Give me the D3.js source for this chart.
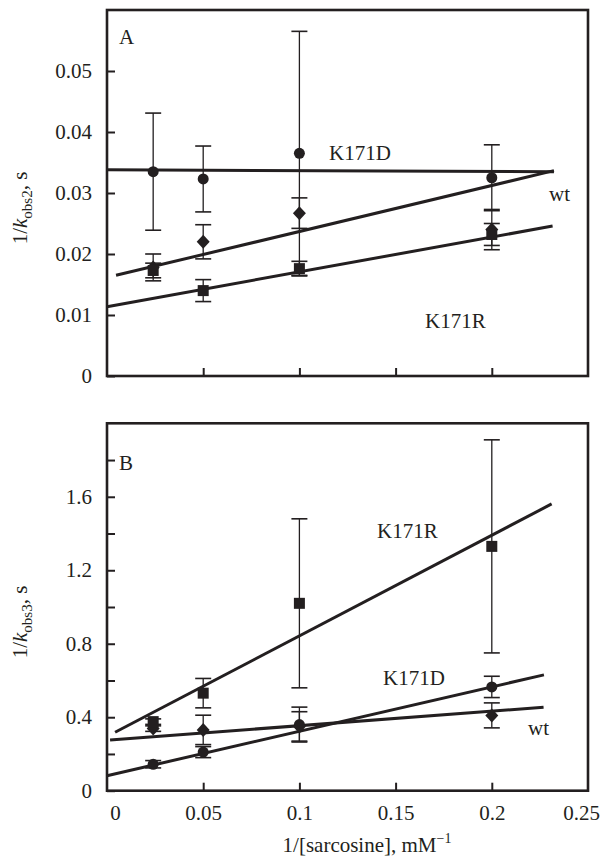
<!DOCTYPE html>
<html><head><meta charset="utf-8">
<script src="https://cdn.jsdelivr.net/npm/d3@7"></script>
<style>
html,body{margin:0;padding:0;background:#fff;}
svg text{font-family:"Liberation Serif","Times New Roman",serif;fill:#231f20;}
</style></head>
<body>
<svg id="chart" width="601" height="859" font-family="Liberation Serif, serif"></svg>
<script>
// ---- data ----
const xValues = [0.024, 0.05, 0.1, 0.2];
const seriesNames = ["K171D", "wt", "K171R"];
const seriesShapes = ["circle", "diamond", "square"];

// Panel A: 1/kobs2
const aK171D = [0.0335, 0.0323, 0.0365, 0.0325];
const aK171DErr = [0.0096, 0.0054, 0.0200, 0.0054];
const aWt = [0.0178, 0.0220, 0.0267, 0.0240];
const aWtErr = [0.0022, 0.0028, 0.0025, 0.0033];
const aK171R = [0.0173, 0.0140, 0.0176, 0.0232];
const aK171RErr = [0.0012, 0.0018, 0.0012, 0.0018];
const aFitIntercept = [0.0338, 0.01615, 0.01136];
const aFitSlope = [-0.0013, 0.0754, 0.0571];
const aFitStart = [0, 0.0047, 0];
const aFitEnd = [0.2323, 0.2323, 0.2316];
const aYTicks = [0, 0.01, 0.02, 0.03, 0.04, 0.05];

// Panel B: 1/kobs3
const bK171D = [0.144, 0.210, 0.360, 0.565];
const bK171DErr = [0.020, 0.030, 0.095, 0.058];
const bWt = [0.338, 0.331, 0.350, 0.410];
const bWtErr = [0.015, 0.080, 0.080, 0.068];
const bK171R = [0.376, 0.531, 1.020, 1.330];
const bK171RErr = [0.015, 0.080, 0.460, 0.580];
const bFitIntercept = [0.0817, 0.2747, 0.295];
const bFitSlope = [2.417, 0.792, 5.478];
const bFitStart = [0, 0.0016, 0.0042];
const bFitEnd = [0.2271, 0.2269, 0.2311];
const bYTicks = [0, 0.2, 0.4, 0.6, 0.8, 1.0, 1.2, 1.4, 1.6, 1.8];
const bYLabels = [0, 0.4, 0.8, 1.2, 1.6];

const xTicksInner = [0.05, 0.1, 0.15, 0.2];
const xTickLabels = [0, 0.05, 0.1, 0.15, 0.2, 0.25];

// ---- drawing ----
const FONT = "Liberation Serif, Times New Roman, serif";
const svg = d3.select("#chart");
const ink = "#231f20";
const x = d3.scaleLinear().domain([0, 0.25]).range([107, 588]);

function drawPanel(cfg) {
  const g = svg.append("g");
  const y = cfg.y;
  // y axis (inward ticks)
  const ya = d3.axisLeft(y).tickValues(cfg.yTicks).tickSize(-8).tickPadding(15)
    .tickFormat(d => cfg.yLabels.some(v => Math.abs(v - d) < 1e-9) ? String(+d.toFixed(3)) : "");
  const yg = g.append("g").attr("transform", `translate(${x.range()[0]},0)`).call(ya)
    .attr("font-family", FONT);
  yg.select(".domain").remove();
  yg.selectAll("line").attr("stroke", ink).attr("stroke-width", 2);
  yg.selectAll("text").attr("font-size", 21).attr("fill", ink).attr("font-family", FONT);

  // x axis (inward ticks)
  const xa = d3.axisBottom(x).tickValues(xTicksInner).tickSize(-8).tickFormat("");
  const xg = g.append("g").attr("transform", `translate(0,${y.range()[0]})`).call(xa);
  xg.select(".domain").remove();
  xg.selectAll("line").attr("stroke", ink).attr("stroke-width", 2);

  if (cfg.showXLabels) {
    const xl = d3.axisBottom(x).tickValues(xTickLabels).tickSize(0).tickPadding(14)
      .tickFormat(d => String(d));
    const xlg = g.append("g").attr("transform", `translate(0,${y.range()[0]})`).call(xl)
      .attr("font-family", FONT);
    xlg.select(".domain").remove();
    xlg.selectAll("text").attr("font-size", 21).attr("fill", ink).attr("font-family", FONT)
      .attr("dx", d => d === 0 ? 8 : (d === 0.25 ? -7 : 0));
  }

  // frame
  g.append("rect")
    .attr("x", x.range()[0]).attr("y", y.range()[1])
    .attr("width", x.range()[1] - x.range()[0]).attr("height", y.range()[0] - y.range()[1])
    .attr("fill", "none").attr("stroke", ink).attr("stroke-width", 2.6);

  // fit lines
  cfg.fitIntercept.forEach((b, i) => {
    const m = cfg.fitSlope[i];
    const xs = [cfg.fitStart[i], cfg.fitEnd[i]];
    g.append("line")
      .attr("x1", x(xs[0])).attr("y1", y(b + m * xs[0]))
      .attr("x2", x(xs[1])).attr("y2", y(b + m * xs[1]))
      .attr("stroke", ink).attr("stroke-width", 3);
  });

  // error bars and markers
  cfg.series.forEach((s, si) => {
    const shape = seriesShapes[si];
    s.vals.forEach((v, i) => {
      const cx = x(xValues[i]);
      const e = s.errs[i];
      const yt = y(v + e), yb = y(v - e);
      g.append("line").attr("x1", cx).attr("x2", cx).attr("y1", yt).attr("y2", yb)
        .attr("stroke", ink).attr("stroke-width", 1.3);
      [yt, yb].forEach(yy => g.append("line").attr("x1", cx - 8).attr("x2", cx + 8)
        .attr("y1", yy).attr("y2", yy).attr("stroke", ink).attr("stroke-width", 1.6));
      const cy = y(v);
      if (shape === "circle") {
        g.append("circle").attr("cx", cx).attr("cy", cy).attr("r", 5.5).attr("fill", ink);
      } else if (shape === "square") {
        g.append("rect").attr("x", cx - 5.5).attr("y", cy - 5.5).attr("width", 11).attr("height", 11).attr("fill", ink);
      } else {
        g.append("path").attr("d", `M${cx},${cy - 7}L${cx + 6.5},${cy}L${cx},${cy + 7}L${cx - 6.5},${cy}Z`).attr("fill", ink);
      }
    });
  });

  // series labels
  cfg.labels.forEach(l => {
    g.append("text").attr("x", l.x).attr("y", l.y).attr("font-size", 21)
      .attr("font-family", FONT).attr("fill", ink).text(l.t);
  });
  // panel letter
  g.append("text").attr("x", 119).attr("y", cfg.letterY).attr("font-size", 21)
    .attr("font-family", FONT).attr("fill", ink).text(cfg.letter);

  // y title
  const t = g.append("text").attr("transform", `translate(27,${cfg.titleY}) rotate(-90)`)
    .attr("text-anchor", "middle").attr("font-size", 21).attr("font-family", FONT).attr("fill", ink);
  t.append("tspan").text("1/");
  t.append("tspan").attr("font-style", "italic").text("k");
  t.append("tspan").attr("font-size", 15).attr("dy", 5).text(cfg.sub);
  t.append("tspan").attr("dy", -5).text(", s");
}

drawPanel({
  y: d3.scaleLinear().domain([0, 0.06]).range([376, 10]),
  yTicks: aYTicks, yLabels: aYTicks,
  fitIntercept: aFitIntercept, fitSlope: aFitSlope, fitStart: aFitStart, fitEnd: aFitEnd,
  series: [{vals: aK171D, errs: aK171DErr}, {vals: aWt, errs: aWtErr}, {vals: aK171R, errs: aK171RErr}],
  labels: [{t: seriesNames[0], x: 329, y: 160}, {t: seriesNames[1], x: 549, y: 201}, {t: seriesNames[2], x: 425, y: 328}],
  letter: "A", letterY: 44, sub: "obs2", titleY: 208, showXLabels: false
});

drawPanel({
  y: d3.scaleLinear().domain([0, 2.0]).range([790.7, 423.3]),
  yTicks: bYTicks, yLabels: bYLabels,
  fitIntercept: bFitIntercept, fitSlope: bFitSlope, fitStart: bFitStart, fitEnd: bFitEnd,
  series: [{vals: bK171D, errs: bK171DErr}, {vals: bWt, errs: bWtErr}, {vals: bK171R, errs: bK171RErr}],
  labels: [{t: seriesNames[2], x: 377, y: 538}, {t: seriesNames[0], x: 383, y: 685}, {t: seriesNames[1], x: 528, y: 735}],
  letter: "B", letterY: 470, sub: "obs3", titleY: 622, showXLabels: true
});

// x axis title
const xt = svg.append("text").attr("x", 367).attr("y", 852).attr("text-anchor", "middle")
  .attr("font-size", 21).attr("font-family", FONT).attr("fill", ink);
xt.append("tspan").text("1/[sarcosine], mM");
xt.append("tspan").attr("font-size", 14).attr("dy", -9).text("−1");
</script>
</body></html>
